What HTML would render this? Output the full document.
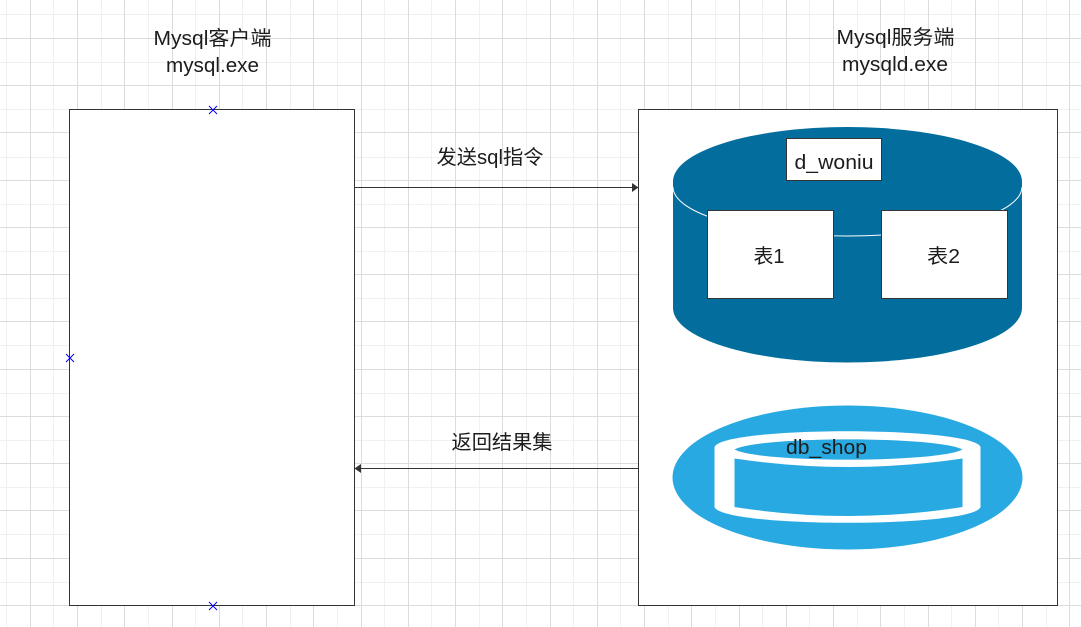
<!DOCTYPE html>
<html>
<head>
<meta charset="utf-8">
<style>
html,body{margin:0;padding:0;background:#fff;width:1081px;height:627px;overflow:hidden}
svg{display:block}
text{font-family:"Liberation Sans","Noto Sans CJK SC",sans-serif;font-size:20px;fill:#1c1c1c}
</style>
</head>
<body>
<svg width="1081" height="627" viewBox="0 0 1081 627" xmlns="http://www.w3.org/2000/svg">
<path fill="none" stroke="#f0f0f0" stroke-width="1" shape-rendering="crispEdges" d="M6.5 0V627M53.5 0V627M101.5 0V627M148.5 0V627M195.5 0V627M242.5 0V627M290.5 0V627M337.5 0V627M384.5 0V627M431.5 0V627M479.5 0V627M526.5 0V627M573.5 0V627M620.5 0V627M668.5 0V627M715.5 0V627M762.5 0V627M809.5 0V627M857.5 0V627M904.5 0V627M951.5 0V627M998.5 0V627M1046.5 0V627M0 14.5H1081M0 62.5H1081M0 109.5H1081M0 157.5H1081M0 204.5H1081M0 251.5H1081M0 298.5H1081M0 345.5H1081M0 393.5H1081M0 440.5H1081M0 487.5H1081M0 534.5H1081M0 582.5H1081"/>
<path fill="none" stroke="#dcdcdc" stroke-width="1" shape-rendering="crispEdges" d="M30.5 0V627M77.5 0V627M124.5 0V627M172.5 0V627M219.5 0V627M266.5 0V627M313.5 0V627M361.5 0V627M408.5 0V627M455.5 0V627M502.5 0V627M550.5 0V627M597.5 0V627M644.5 0V627M691.5 0V627M739.5 0V627M786.5 0V627M833.5 0V627M880.5 0V627M928.5 0V627M975.5 0V627M1022.5 0V627M1069.5 0V627M0 38.5H1081M0 85.5H1081M0 132.5H1081M0 180.5H1081M0 227.5H1081M0 274.5H1081M0 321.5H1081M0 369.5H1081M0 416.5H1081M0 463.5H1081M0 510.5H1081M0 558.5H1081M0 605.5H1081"/>

<rect x="69.5" y="109.5" width="285" height="496" fill="#fff" stroke="#333" stroke-width="1"/>
<rect x="638.5" y="109.5" width="419" height="496" fill="#fff" stroke="#333" stroke-width="1"/>

<path d="M209 106l8 8m0-8l-8 8M209 602l8 8m0-8l-8 8M66 354l8 8m0-8l-8 8" stroke="#0000ff" stroke-width="1" fill="none"/>

<path d="M354.5 187.5H632" stroke="#333" stroke-width="1" fill="none"/>
<path d="M632 183L638.5 187.5L632 192Z" fill="#333"/>
<path d="M638 468.5H361" stroke="#333" stroke-width="1" fill="none"/>
<path d="M361 464L354.5 468.5L361 473Z" fill="#333"/>

<path d="M673 181.5A174.5 54.5 0 0 1 1022 181.5V308A174.5 54.5 0 0 1 673 308Z" fill="#036e9e"/>
<path d="M673 187A174.5 49 0 0 0 1022 187" fill="none" stroke="#fff" stroke-width="1"/>

<rect x="786.5" y="138.5" width="95" height="42" fill="#fff" stroke="#333" stroke-width="1"/>
<rect x="707.5" y="210.5" width="126" height="88" fill="#fff" stroke="#333" stroke-width="1"/>
<rect x="881.5" y="210.5" width="126" height="88" fill="#fff" stroke="#333" stroke-width="1"/>

<ellipse cx="847.5" cy="477.5" rx="175" ry="72" fill="#29a9e1"/>
<path d="M714.5 447C722 426 973 426 980.5 447V507C973 528 722 528 714.5 507Z" fill="#fff"/>
<path d="M734.5 449.5C760 436 937 436 962.5 449.5C937 463 760 463 734.5 449.5Z" fill="#29a9e1"/>
<path d="M734.5 458.5Q848.5 475.5 962.5 458.5V507Q848.5 525 734.5 507Z" fill="#29a9e1"/>

<text x="212.5" y="45" text-anchor="middle" textLength="118" lengthAdjust="spacingAndGlyphs">Mysql客户端</text>
<text x="212.5" y="72" text-anchor="middle" textLength="93" lengthAdjust="spacingAndGlyphs">mysql.exe</text>
<text x="895.5" y="44" text-anchor="middle" textLength="118" lengthAdjust="spacingAndGlyphs">Mysql服务端</text>
<text x="895" y="71" text-anchor="middle" textLength="106" lengthAdjust="spacingAndGlyphs">mysqld.exe</text>
<text x="490" y="164" text-anchor="middle" textLength="107" lengthAdjust="spacingAndGlyphs">发送sql指令</text>
<text x="502" y="449" text-anchor="middle" textLength="101" lengthAdjust="spacingAndGlyphs">返回结果集</text>
<text x="834" y="169" text-anchor="middle" textLength="79" lengthAdjust="spacingAndGlyphs">d_woniu</text>
<text x="769" y="263" text-anchor="middle" textLength="31" lengthAdjust="spacingAndGlyphs">表1</text>
<text x="943.5" y="263" text-anchor="middle" textLength="33" lengthAdjust="spacingAndGlyphs">表2</text>
<text x="826.5" y="454" text-anchor="middle" textLength="81" lengthAdjust="spacingAndGlyphs">db_shop</text>
</svg>
</body>
</html>
